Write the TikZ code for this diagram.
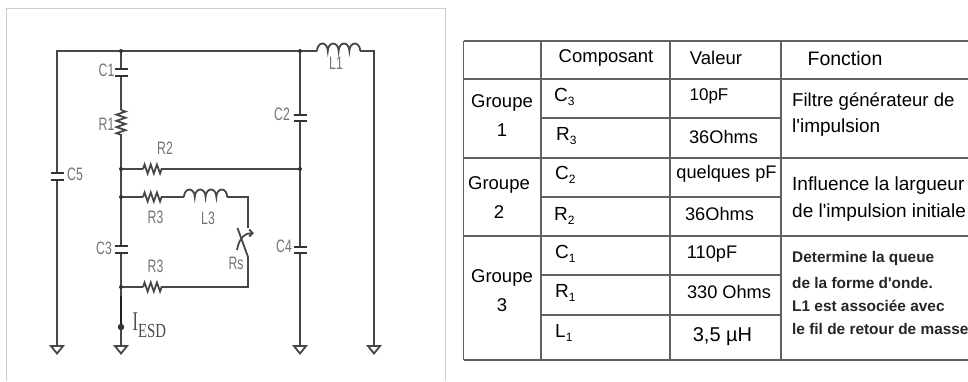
\documentclass[tikz,border=0pt]{standalone}
\usepackage{fontspec}
\setmainfont{Liberation Sans}
\newfontfamily\serifesd{Liberation Serif}
\newfontfamily\plainf{Liberation Sans}
\usetikzlibrary{decorations.pathmorphing,arrows.meta}
\tikzset{
 wire/.style={draw=black!72,line width=1.8pt,line join=miter},
 plate/.style={draw=black!80,line width=2pt},
 junction/.style={circle,fill=black!80,inner sep=0pt,minimum size=4pt},
 lbl/.style={text=black!55,font=\fontsize{18}{18}\selectfont,inner sep=0pt,transform shape,xscale=.68},
 rz/.style={decorate,decoration={zigzag,segment length=6.2pt,amplitude=4.5pt}},
 gridline/.style={draw=black!62,line width=1.5pt},
 head/.style={font=\fontsize{18.5}{18.5}\selectfont,inner sep=0pt,text=black},
 compt/.style={font=\fontsize{19}{19}\selectfont,inner sep=0pt,anchor=west,text=black},
 cellt/.style={font=\fontsize{18.2}{18.2}\selectfont,inner sep=0pt,text=black},
 fnt/.style={font=\fontsize{19}{19}\selectfont,inner sep=0pt,anchor=west,text=black},
 fns/.style={font=\fontsize{15.4}{15.4}\bfseries\selectfont,inner sep=0pt,anchor=west,text=black!85},
}
\newcommand{\gnd}[1]{\draw[wire] (#1) ++(-6,0) -- ++(12,0) -- ++(-6,7.5) -- cycle;}
\newcommand{\humps}[1]{\draw[wire] (#1) arc[start angle=180,end angle=360,x radius=5.4,y radius=7.5] arc[start angle=180,end angle=360,x radius=5.4,y radius=7.5] arc[start angle=180,end angle=360,x radius=5.4,y radius=7.5] arc[start angle=180,end angle=360,x radius=5.4,y radius=7.5];}
\newcommand{\sbs}[1]{\raisebox{-4.5pt}{\fontsize{12}{12}\selectfont #1}}
\newcommand{\apos}{{\plainf\char39}}
\begin{document}
\begin{tikzpicture}[x=1pt,y=-1pt]
\useasboundingbox (0,0) rectangle (968,381);
\fill[white] (0,0) rectangle (968,381);
% panel
\draw[black!20,line width=1pt] (6.5,381) -- (6.5,8.5) -- (445,8.5) -- (445,381);
% circuit points
\coordinate (tl) at (57,51);
\coordinate (j1) at (121,51);
\coordinate (j2) at (300,51);
\coordinate (l1a) at (317,51);
\coordinate (l1b) at (360,51);
\coordinate (tr) at (374,51);
\coordinate (g5) at (57,346);
\coordinate (g3) at (121,346);
\coordinate (g4) at (300,346);
\coordinate (g6) at (374,346);
\coordinate (c1a) at (121,69);
\coordinate (c1b) at (121,76);
\coordinate (r1a) at (121,110);
\coordinate (r1b) at (121,137);
\coordinate (j3) at (121,169);
\coordinate (j4) at (300,169);
\coordinate (r2a) at (143,169);
\coordinate (r2b) at (164,169);
\coordinate (j5) at (121,197);
\coordinate (r3a) at (143,197);
\coordinate (r3b) at (164,197);
\coordinate (l3a) at (184,197);
\coordinate (l3b) at (227,197);
\coordinate (ct) at (248,197);
\coordinate (sw1) at (248,228);
\coordinate (sw2) at (248,257);
\coordinate (cb) at (248,287);
\coordinate (c3a) at (121,246);
\coordinate (c3b) at (121,253);
\coordinate (j6) at (121,287);
\coordinate (r4a) at (143,287);
\coordinate (r4b) at (164,287);
\coordinate (th) at (121,296);
\coordinate (j7) at (121,327);
\coordinate (c5a) at (57,173);
\coordinate (c5b) at (57,180);
\coordinate (c2a) at (300,114.5);
\coordinate (c2b) at (300,120.5);
\coordinate (c4a) at (300,247);
\coordinate (c4b) at (300,253);
% wires
\draw[wire] (g5) -- (c5b) (c5a) -- (tl) -- (j1) -- (j2) -- (l1a);
\draw[wire] (l1b) -- (tr) -- (g6);
\draw[wire] (j1) -- (c1a) (c1b) -- (r1a) (r1b) -- (j3) -- (j5) -- (c3a) (c3b) -- (j6) -- (th);
\draw[wire,line width=2.4pt,draw=black!88] (th) -- (j7);
\draw[wire] (j7) -- (g3);
\draw[wire] (j2) -- (c2a) (c2b) -- (c4a) (c4b) -- (g4);
\draw[wire] (j3) -- (r2a) (r2b) -- (j4);
\draw[wire] (j5) -- (r3a) (r3b) -- (l3a) (l3b) -- (ct) -- (sw1);
\draw[wire] (sw2) -- (cb) -- (r4b) (r4a) -- (j6);
% resistors
\draw[wire,rz] (r1a) -- (r1b);
\draw[wire,rz] (r2a) -- (r2b);
\draw[wire,rz] (r3a) -- (r3b);
\draw[wire,rz] (r4a) -- (r4b);
% inductors
\humps{l1a}
\humps{l3a}
% capacitors
\draw[plate] (c1a) ++(-6.5,0) -- ++(13,0) (c1b) ++(-6.5,0) -- ++(13,0);
\draw[plate] (c3a) ++(-6.5,0) -- ++(13,0) (c3b) ++(-6.5,0) -- ++(13,0);
\draw[plate] (c5a) ++(-6.5,0) -- ++(13,0) (c5b) ++(-6.5,0) -- ++(13,0);
\draw[plate] (c2a) ++(-6.5,0) -- ++(13,0) (c2b) ++(-6.5,0) -- ++(13,0);
\draw[plate] (c4a) ++(-6.5,0) -- ++(13,0) (c4b) ++(-6.5,0) -- ++(13,0);
% grounds
\gnd{g5}\gnd{g3}\gnd{g4}\gnd{g6}
% junctions
\foreach \p in {j1,j2,j3,j4,j5,j6}{\node[junction] at (\p) {};}
\node[junction,minimum size=6.5pt] at (j7) {};
% switch
\coordinate (bl1) at (237.5,228);
\coordinate (ar1) at (237,250);
\coordinate (ar2) at (254,233);
\draw[wire] (bl1) -- (sw2);
\draw[wire,-{Straight Barb[length=3.5pt,width=7pt]}] (ar1) .. controls (239,238) and (245,233) .. (ar2);
% labels
\node[lbl] (lc1) at (106.5,70) {C1};
\node[lbl] (lr1) at (106.5,124) {R1};
\node[lbl] (lr2) at (165,148) {R2};
\node[lbl] (lc5) at (75,174.5) {C5};
\node[lbl] (lr3) at (155.5,217) {R3};
\node[lbl] (ll3) at (208,218) {L3};
\node[lbl] (lc3) at (104,248.5) {C3};
\node[lbl] (lr4) at (155.5,266) {R3};
\node[lbl] (lrs) at (236,263) {Rs};
\node[lbl] (ll1) at (336,63) {L1};
\node[lbl] (lc2) at (282,114) {C2};
\node[lbl] (lc4) at (284,246.5) {C4};
\node[text=black!70,inner sep=0pt,anchor=base west,font=\serifesd\fontsize{27}{27}\selectfont] (lesd) at (132.5,330.5) {\scalebox{.6}[1]{I}\raisebox{-6.5pt}{\fontsize{20}{20}\selectfont\scalebox{.74}[1]{ESD}}};
% table
\draw[gridline] (463.5,41) -- (968,41) (463.5,79) -- (968,79) (463.5,158) -- (968,158) (463.5,236) -- (968,236) (463.5,360) -- (968,360);
\draw[gridline] (541,118) -- (781,118) (541,197) -- (781,197) (541,275) -- (781,275) (541,315) -- (781,315);
\draw[gridline] (463.5,41) -- (463.5,360) (541,41) -- (541,360) (670,41) -- (670,360) (781,41) -- (781,360);
% headers
\node[head] (h1) at (606,58) {Composant};
\node[head] (h2) at (716,58) {Valeur};
\node[head,font=\fontsize{19.5}{19.5}\selectfont] (h3) at (845,59) {Fonction};
% groups
\node[head] (g1t) at (502,103) {Groupe};
\node[head] (g1n) at (502,130) {1};
\node[head] (g2t) at (499,185) {Groupe};
\node[head] (g2n) at (499,212) {2};
\node[head] (g3t) at (502,278) {Groupe};
\node[head] (g3n) at (502,305) {3};
% components
\node[compt] (k1) at (554,97) {C\sbs{3}};
\node[compt] (k2) at (556,136) {R\sbs{3}};
\node[compt] (k3) at (555,175) {C\sbs{2}};
\node[compt] (k4) at (554,216) {R\sbs{2}};
\node[compt] (k5) at (555,254) {C\sbs{1}};
\node[compt] (k6) at (555,293) {R\sbs{1}};
\node[compt] (k7) at (555,333) {L\sbs{1}};
% values
\node[cellt,font=\fontsize{17}{17}\selectfont] (v1) at (709,96) {10pF};
\node[cellt] (v2) at (723.5,137) {36Ohms};
\node[cellt] (v3) at (726.5,174) {quelques pF};
\node[cellt] (v4) at (719.5,214) {36Ohms};
\node[cellt] (v5) at (712,254) {110pF};
\node[cellt] (v6) at (729,292) {330 Ohms};
\node[head,font=\fontsize{20}{20}\selectfont] (v7) at (722.5,337) {3,5 µH};
% functions
\node[fnt,font=\fontsize{18.6}{18.6}\selectfont] (f1) at (792,102) {Filtre générateur de};
\node[fnt] (f2) at (792,128) {l\apos impulsion};
\node[fnt] (f3) at (792,186) {Influence la largueur};
\node[fnt] (f4) at (792,213) {de l\apos impulsion initiale};
\node[fns] (f5) at (792,259) {Determine la queue};
\node[fns] (f6) at (792,283) {de la forme d\apos onde.};
\node[fns] (f7) at (792,306) {L1 est associée avec};
\node[fns] (f8) at (792,329) {le fil de retour de masse};
\end{tikzpicture}
\end{document}
